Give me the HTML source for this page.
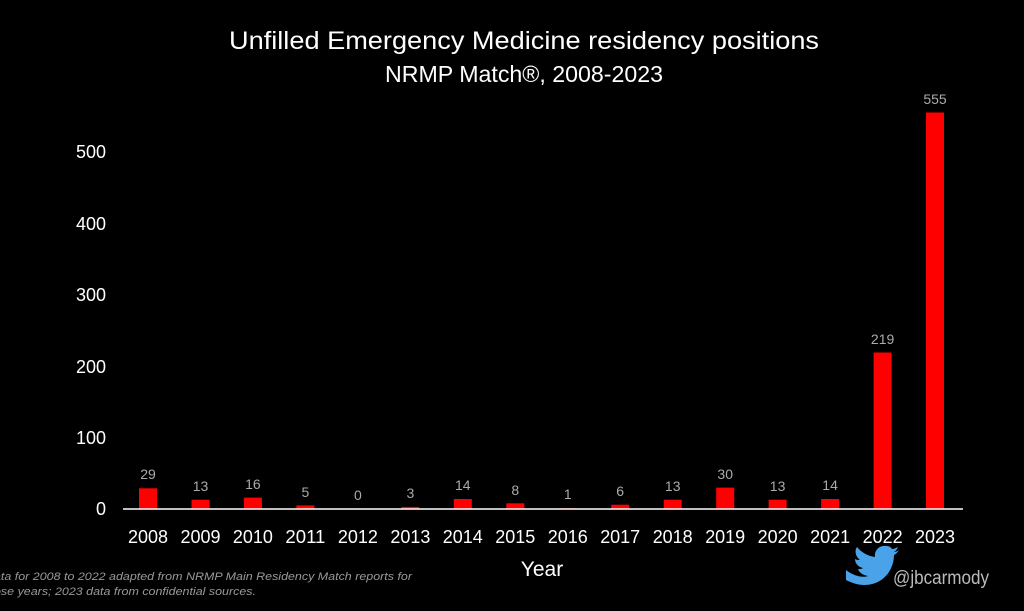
<!DOCTYPE html>
<html><head><meta charset="utf-8"><style>
html,body{margin:0;padding:0;background:#000;}
svg{display:block;font-family:"Liberation Sans",sans-serif;}
</style></head><body>
<svg width="1024" height="611" viewBox="0 0 1024 611">
<rect width="1024" height="611" fill="#000"/>
<text x="524" y="49" fill="#fff" font-size="25" text-anchor="middle" textLength="590" lengthAdjust="spacingAndGlyphs">Unfilled Emergency Medicine residency positions</text>
<text x="524" y="82" fill="#fff" font-size="23" text-anchor="middle" textLength="278" lengthAdjust="spacingAndGlyphs">NRMP Match®, 2008-2023</text>
<g fill="#fff" font-size="18" text-anchor="end">
<text x="106" y="515">0</text>
<text x="106" y="444">100</text>
<text x="106" y="373">200</text>
<text x="106" y="301">300</text>
<text x="106" y="230">400</text>
<text x="106" y="158">500</text>
</g>
<g fill="#ff0000">
<rect x="139" y="488.3" width="18" height="20.7"/>
<rect x="191.5" y="499.7" width="18" height="9.3"/>
<rect x="243.9" y="497.6" width="18" height="11.4"/>
<rect x="296.4" y="505.4" width="18" height="3.6"/>
<rect x="401.4" y="506.9" width="18" height="2.1"/>
<rect x="453.8" y="499" width="18" height="10"/>
<rect x="506.3" y="503.3" width="18" height="5.7"/>
<rect x="558.8" y="508.3" width="18" height="0.7"/>
<rect x="611.2" y="504.7" width="18" height="4.3"/>
<rect x="663.7" y="499.7" width="18" height="9.3"/>
<rect x="716.2" y="487.6" width="18" height="21.4"/>
<rect x="768.6" y="499.7" width="18" height="9.3"/>
<rect x="821.1" y="499" width="18" height="10"/>
<rect x="873.6" y="352.5" width="18" height="156.5"/>
<rect x="926" y="112.5" width="18" height="396.5"/>
</g>
<line x1="123" y1="509" x2="963" y2="509" stroke="#fff" stroke-width="1.5"/>
<g fill="#aaa" font-size="14" text-anchor="middle">
<text x="148" y="479">29</text>
<text x="200.5" y="491">13</text>
<text x="252.9" y="489">16</text>
<text x="305.4" y="497">5</text>
<text x="357.9" y="500">0</text>
<text x="410.4" y="498">3</text>
<text x="462.8" y="490">14</text>
<text x="515.3" y="495">8</text>
<text x="567.8" y="499">1</text>
<text x="620.2" y="496">6</text>
<text x="672.7" y="491">13</text>
<text x="725.2" y="479">30</text>
<text x="777.6" y="491">13</text>
<text x="830.1" y="490">14</text>
<text x="882.6" y="344">219</text>
<text x="935" y="104">555</text>
</g>
<g fill="#fff" font-size="18" text-anchor="middle" lengthAdjust="spacingAndGlyphs">
<text x="148" y="543" textLength="40" lengthAdjust="spacingAndGlyphs">2008</text>
<text x="200.5" y="543" textLength="40" lengthAdjust="spacingAndGlyphs">2009</text>
<text x="252.9" y="543" textLength="40" lengthAdjust="spacingAndGlyphs">2010</text>
<text x="305.4" y="543" textLength="40" lengthAdjust="spacingAndGlyphs">2011</text>
<text x="357.9" y="543" textLength="40" lengthAdjust="spacingAndGlyphs">2012</text>
<text x="410.4" y="543" textLength="40" lengthAdjust="spacingAndGlyphs">2013</text>
<text x="462.8" y="543" textLength="40" lengthAdjust="spacingAndGlyphs">2014</text>
<text x="515.3" y="543" textLength="40" lengthAdjust="spacingAndGlyphs">2015</text>
<text x="567.8" y="543" textLength="40" lengthAdjust="spacingAndGlyphs">2016</text>
<text x="620.2" y="543" textLength="40" lengthAdjust="spacingAndGlyphs">2017</text>
<text x="672.7" y="543" textLength="40" lengthAdjust="spacingAndGlyphs">2018</text>
<text x="725.2" y="543" textLength="40" lengthAdjust="spacingAndGlyphs">2019</text>
<text x="777.6" y="543" textLength="40" lengthAdjust="spacingAndGlyphs">2020</text>
<text x="830.1" y="543" textLength="40" lengthAdjust="spacingAndGlyphs">2021</text>
<text x="882.6" y="543" textLength="40" lengthAdjust="spacingAndGlyphs">2022</text>
<text x="935" y="543" textLength="40" lengthAdjust="spacingAndGlyphs">2023</text>
</g>
<text x="542" y="576" fill="#fff" font-size="21" text-anchor="middle">Year</text>
<g fill="#999" font-size="11" font-style="italic">
<text x="-6" y="580" textLength="418" lengthAdjust="spacingAndGlyphs">ata for 2008 to 2022 adapted from NRMP Main Residency Match reports for</text>
<text x="-6" y="595" textLength="262" lengthAdjust="spacingAndGlyphs">ose years; 2023 data from confidential sources.</text>
</g>
<path d="M846 574 c8 6 16 8 22 6 c-6-1-9-4-10-7 c2 0 4 0 5-1 c-5-1-8-5-8-9 c2 1 3 1 5 1 c-4-3-6-9-3-13 c5 6 11 9 18 10 c-1-7 5-12 11-11 c3 0 5 1 6 3 c2 0 4-1 6-2 c-1 2-2 4-4 5 c2 0 4-1 5-2 c-1 2-3 4-5 5 c0 14-10 30-30 30 c-6 0-12-2-18-5z" fill="#4aa3e8" transform="translate(0,-4)"/>
<text x="893" y="584" fill="#bbb" font-size="19" textLength="96" lengthAdjust="spacingAndGlyphs">@jbcarmody</text>
</svg>
</body></html>
